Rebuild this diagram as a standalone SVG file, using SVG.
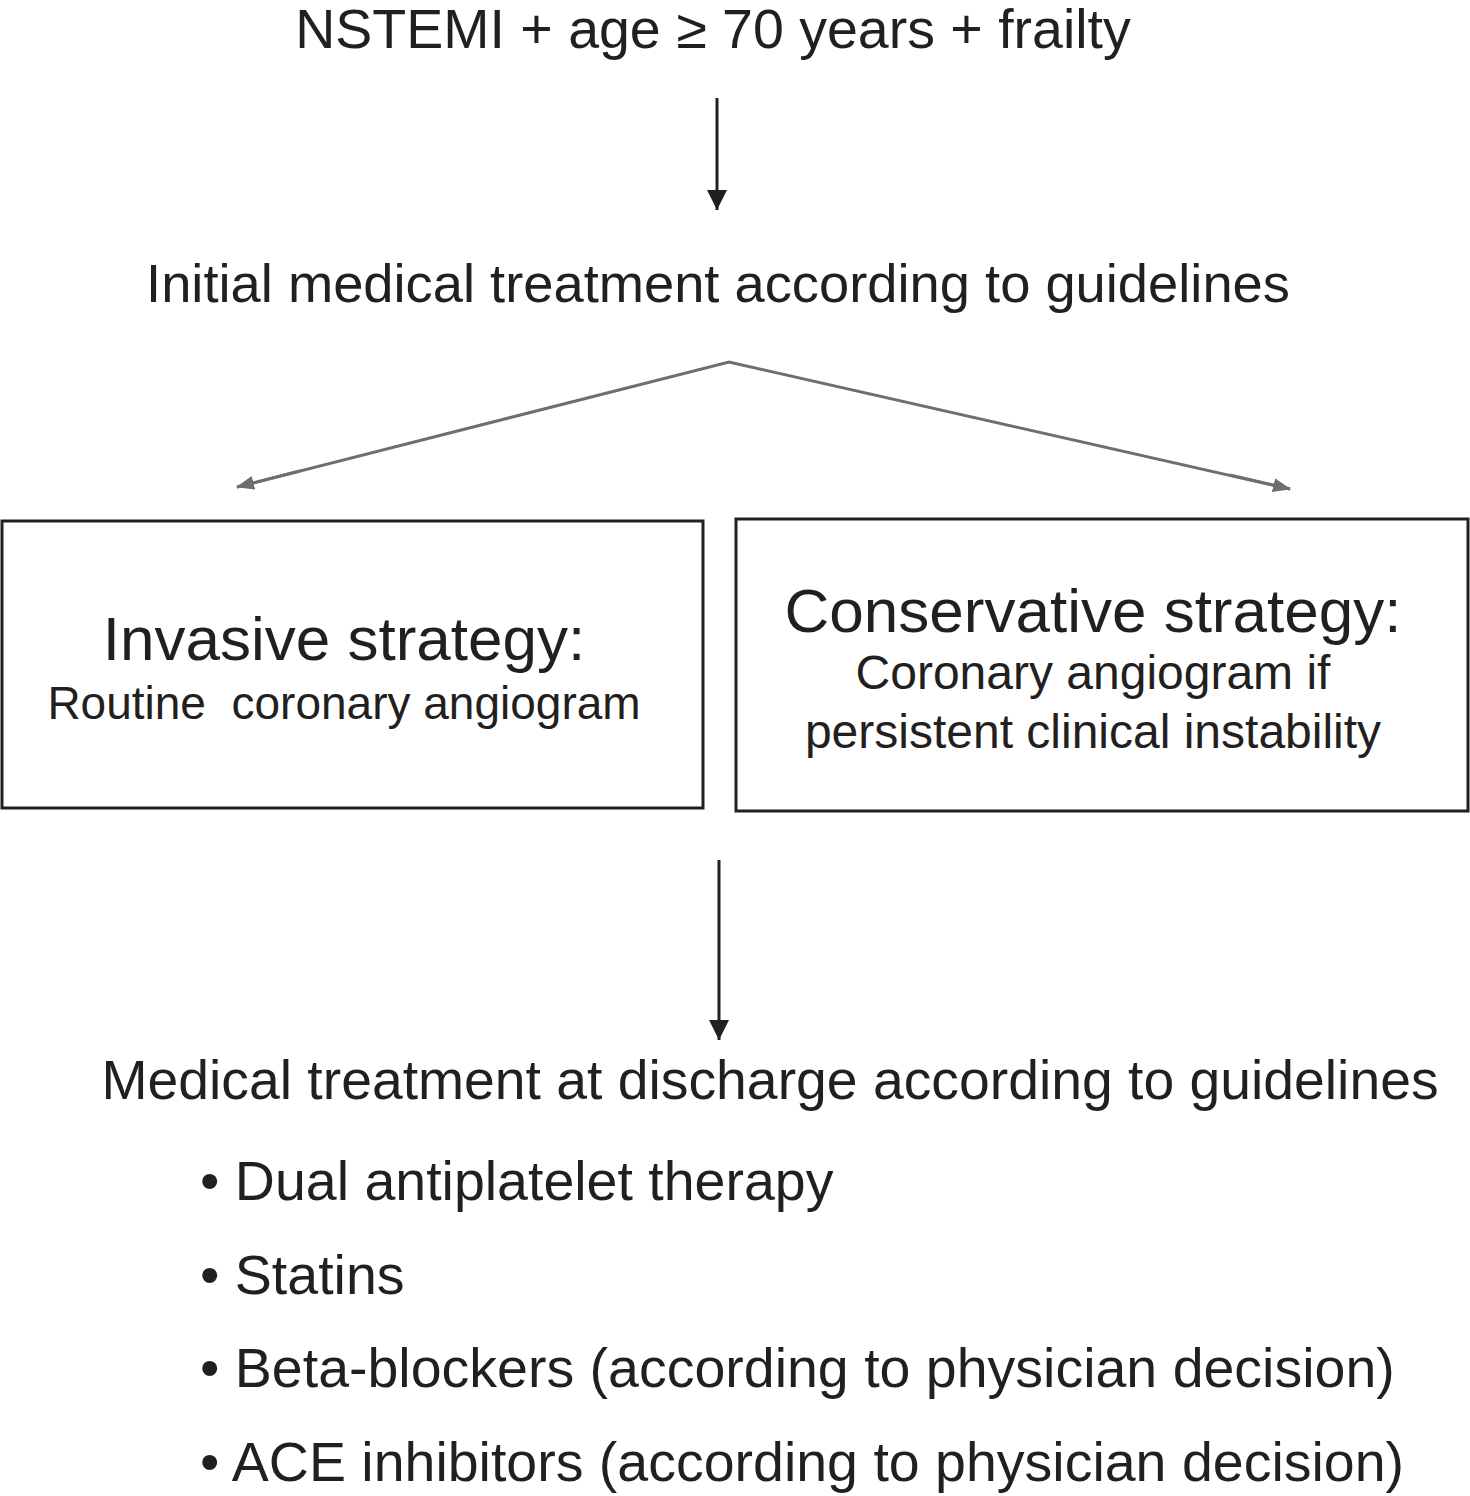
<svg xmlns="http://www.w3.org/2000/svg" width="1470" height="1496" viewBox="0 0 1470 1496">
<style>
text{font-family:"Liberation Sans",Arial,sans-serif;fill:#231f20}
.big{font-size:55.5px}
.box{fill:none;stroke:#231f20;stroke-width:3}
</style>
<defs>
<marker id="ag" markerWidth="18" markerHeight="14" refX="17" refY="7" orient="auto" markerUnits="userSpaceOnUse"><path d="M0,0 L18,7 L0,14z" fill="#6d6e70"/></marker>
<marker id="av" markerWidth="22" markerHeight="22" refX="11" refY="20" orient="0" markerUnits="userSpaceOnUse"><path d="M1,0 L21,0 L11,20z" fill="#231f20"/></marker>
</defs>
<g id="connectors">
<line x1="717" y1="98" x2="717" y2="210" stroke="#231f20" stroke-width="3" marker-end="url(#av)"/>
<polyline points="237,487 729,362 1290,489" fill="none" stroke="#6d6e70" stroke-width="3"/>
<line x1="300" y1="471" x2="237" y2="487" stroke="#6d6e70" stroke-width="3" marker-end="url(#ag)"/>
<line x1="1230" y1="475" x2="1290" y2="489" stroke="#6d6e70" stroke-width="3" marker-end="url(#ag)"/>
<line x1="719" y1="860" x2="719" y2="1040" stroke="#231f20" stroke-width="3" marker-end="url(#av)"/>
</g>
<g id="n1"><text class="big" x="713" y="48" text-anchor="middle">NSTEMI + age ≥ 70 years + frailty</text></g>
<g id="n2"><text x="718" y="302" text-anchor="middle" font-size="54.3">Initial medical treatment according to guidelines</text></g>
<g id="n3"><rect class="box" x="2" y="521" width="701" height="287"/>
<text x="344" y="660" text-anchor="middle" font-size="62">Invasive strategy:</text>
<text x="344" y="719" text-anchor="middle" font-size="46" xml:space="preserve">Routine  coronary angiogram</text></g>
<g id="n4"><rect class="box" x="736" y="519" width="732" height="292"/>
<text x="1093" y="632" text-anchor="middle" font-size="62">Conservative strategy:</text>
<text x="1093" y="689" text-anchor="middle" font-size="48">Coronary angiogram if</text>
<text x="1093" y="748" text-anchor="middle" font-size="48">persistent clinical instability</text></g>
<g id="n5"><text x="770" y="1099" text-anchor="middle" font-size="55.3">Medical treatment at discharge according to guidelines</text>
<text class="big" x="200" y="1200">• Dual antiplatelet therapy</text>
<text class="big" x="200" y="1294">• Statins</text>
<text class="big" x="200" y="1387">• Beta-blockers (according to physician decision)</text>
<text class="big" x="200" y="1481">• ACE inhibitors (according to physician decision)</text></g>
</svg>
